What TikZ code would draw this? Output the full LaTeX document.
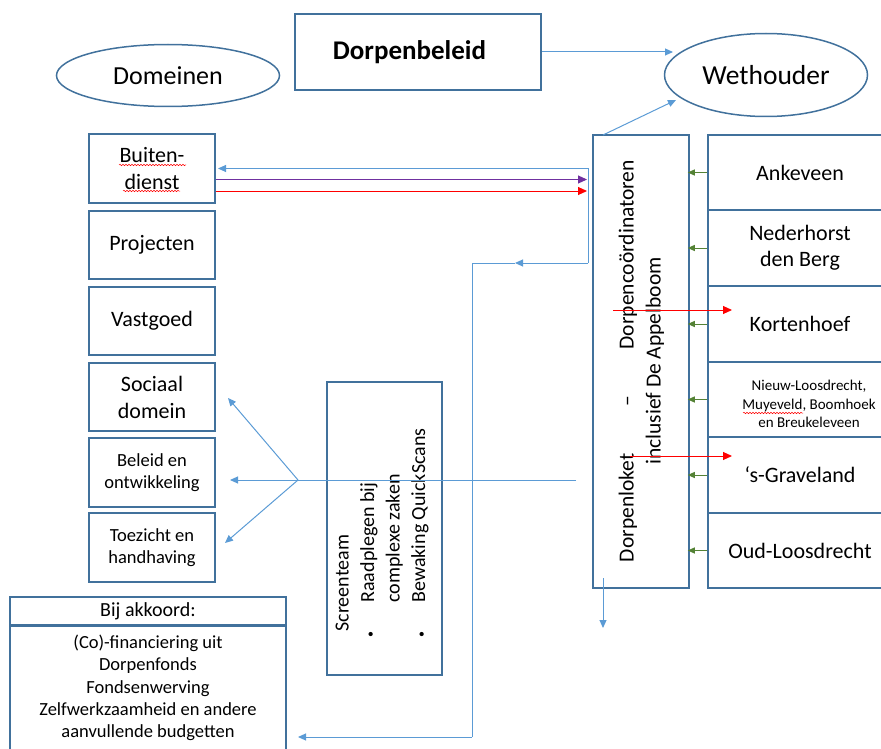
\documentclass[tikz,border=0pt]{standalone}
\usepackage{fontspec}
\setmainfont{Carlito}
\usetikzlibrary{arrows.meta,shapes.geometric,decorations.pathmorphing}
\definecolor{boxblue}{RGB}{65,113,156}
\definecolor{lineblue}{RGB}{91,155,213}
\definecolor{arrgreen}{RGB}{84,130,53}
\definecolor{arrpurple}{RGB}{112,48,160}
\newcommand\setfs[2]{\fontsize{#1pt}{#2pt}\selectfont}
\newcommand\smbul{\makebox[29pt][l]{\hspace{-6pt}{\setfs{12}{12}\textbullet}}}
\tikzset{
 box/.style={draw=boxblue, line width=1.5pt, inner sep=0pt, align=center, rectangle},
 ellbox/.style={draw=boxblue, line width=1.5pt, ellipse, inner sep=0pt},
 conn/.style={draw=lineblue, line width=1pt, -{Triangle[length=8pt,width=7pt]}},
 bline/.style={draw=lineblue, line width=1pt},
 garr/.style={draw=arrgreen, line width=1pt, -{Triangle[length=7pt,width=6pt]}},
 rarr/.style={draw=red, line width=1pt, -{Triangle[length=9pt,width=8pt]}},
 parr/.style={draw=arrpurple, line width=1pt, -{Triangle[length=9pt,width=8pt]}},
 squig/.style={draw=red, line width=0.5pt, decorate, decoration={snake, segment length=3pt, amplitude=0.7pt}},
 txt/.style={inner sep=0pt, align=center},
}
\begin{document}
\begin{tikzpicture}[x=1pt,y=-1pt]
\useasboundingbox (0,0) rectangle (881,749);

% top
\node[ellbox, minimum width=223pt, minimum height=62pt, font=\setfs{26}{30}] (dom) at (168,75.5) {Domeinen};
\node[box, minimum width=246pt, minimum height=76pt, font=\bfseries\setfs{27}{30}] (dbel) at (418,52) {\hspace*{-17pt}Dorpenbeleid};
\node[ellbox, minimum width=203pt, minimum height=83pt, font=\setfs{27.5}{30}] (weth) at (766,75) {Wethouder};

% left column
\node[box, minimum width=126pt, minimum height=69pt, font=\setfs{22}{27}] (bd) at (152,168.5) {Buiten-\\dienst};
\node[box, minimum width=126pt, minimum height=68pt, font=\setfs{22}{27}] (proj) at (152,245) {Projecten};
\node[box, minimum width=126pt, minimum height=68pt, font=\setfs{22}{27}] (vast) at (152,321) {Vastgoed};
\node[box, minimum width=126pt, minimum height=68pt, font=\setfs{22}{27}] (soc) at (152,397) {Sociaal\\domein};
\node[box, minimum width=126pt, minimum height=69pt, font=\setfs{18.5}{22}] (bel) at (152,472.5) {Beleid en\\ontwikkeling};
\node[box, minimum width=126pt, minimum height=69pt, font=\setfs{18.5}{22}] (toe) at (152,547.5) {Toezicht en\\handhaving};

% dorpenloket
\node[box, minimum width=96pt, minimum height=453pt] (dl) at (641,361.5) {};
\node[txt, rotate=90, font=\setfs{21.5}{27}] (dltxt) at (641.5,361) {\makebox[402pt]{Dorpenloket\hfill–\hfill Dorpencoördinatoren}\\inclusief De Appelboom};

% right column
\node[box, minimum width=184pt, minimum height=75pt, font=\setfs{22}{26}] (ank) at (800,172.5) {Ankeveen};
\node[box, minimum width=184pt, minimum height=76pt, font=\setfs{22}{26}] (ned) at (800,248) {Nederhorst\\den Berg};
\node[box, minimum width=184pt, minimum height=76pt, font=\setfs{22}{26}] (kor) at (800,324) {Kortenhoef};
\node[box, minimum width=184pt, minimum height=75pt] (nie) at (800,399.5) {};
\node[txt, font=\setfs{15}{18.5}] (nietxt) at (809,404) {Nieuw-Loosdrecht,\\Muyeveld, Boomhoek\\en Breukeleveen};
\node[box, minimum width=184pt, minimum height=76pt, font=\setfs{22}{26}] (gra) at (800,475) {‘s-Graveland};
\node[box, minimum width=184pt, minimum height=75pt, font=\setfs{22}{26}] (oud) at (800,550.5) {Oud-Loosdrecht};

% screenteam
\node[box, minimum width=115pt, minimum height=293pt] (scr) at (384.5,528.5) {};
\node[inner sep=0pt, align=left, rotate=90, font=\setfs{20}{25.5}] (scrtxt) at (382,530)
 {Screenteam\\\smbul Raadplegen bij\\\hspace*{29pt}complexe zaken\\\smbul Bewaking QuickScans};

% bij akkoord
\node[box, minimum width=276pt, minimum height=28pt, font=\setfs{20}{22}] (bijt) at (148,611) {Bij akkoord:};
\node[box, minimum width=276pt, minimum height=145pt, anchor=north] (bijb) at (bijt.south) {};
\node[txt, font=\setfs{18.5}{22.2}] (bijtxt) at (148,688) {(Co)-financiering uit\\Dorpenfonds\\Fondsenwerving\\Zelfwerkzaamheid en andere\\aanvullende budgetten};

% spelling squiggles
\draw[squig] (119,165) -- (186,165);
\draw[squig] (123,191) -- (180,191);
\draw[squig] (743,413) -- (803,413);

% connectors top
\coordinate (w1) at (673,52);
\draw[conn] (dbel.east) -- (w1);
\coordinate (dlt) at (603,135);
\coordinate (w2) at (676,100);
\draw[conn] (dlt) -- (w2);

% blue loop
\coordinate (c1) at (588,263);
\coordinate (c1m) at (515,263);
\coordinate (c2) at (472,263);
\coordinate (c3) at (472,737);
\coordinate (bdt) at (218,168.5);
\coordinate (bijtip) at (298,737);
\draw[conn] (c1) |- (bdt);
\draw[conn] (c1) -- (c1m);
\draw[bline] (c1m) -- (c2) -- (c3);
\draw[conn] (c3) -- (bijtip);

% purple and red from Buitendienst
\coordinate (dlp) at (587,179.5);
\coordinate (dlr) at (587,191);
\draw[parr] (bd.east |- dlp) -- (dlp);
\draw[rarr] (bd.east |- dlr) -- (dlr);

% green arrows
\foreach \n in {ank,ned,kor,nie,gra,oud}{
  \draw[garr, shorten >=-2pt] (\n.west) -- (\n.west -| dl.east);
}

% red arrows into right column
\coordinate (r1s) at (613,310);
\coordinate (r1e) at (732,310);
\coordinate (r2s) at (630,456);
\coordinate (r2e) at (732,456);
\draw[rarr] (r1s) -- (r1e);
\draw[rarr] (r2s) -- (r2e);

% fan to domains
\coordinate (fr) at (576,480);
\coordinate (fb) at (298,480);
\coordinate (fs) at (228,398);
\coordinate (fm) at (230,480);
\coordinate (ft) at (225,543);
\draw[bline] (fr) -- (fb);
\draw[conn] (fb) -- (fs);
\draw[conn] (fb) -- (fm);
\draw[conn] (fb) -- (ft);

% down arrow
\coordinate (d1) at (603,578);
\coordinate (d2) at (603,628);
\draw[conn] (d1) -- (d2);
\end{tikzpicture}
\end{document}
